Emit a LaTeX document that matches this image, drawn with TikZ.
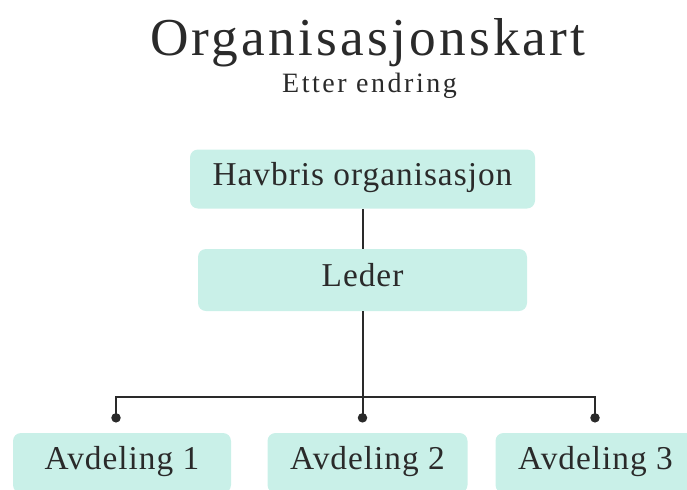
\documentclass[tikz,border=0pt]{standalone}
\usepackage{fontspec}
\setmainfont{Liberation Serif}[LetterSpace=3]
\newfontfamily\headfont{Liberation Serif}[LetterSpace=6]
\newfontfamily\subfont{Liberation Serif}[LetterSpace=9]
\usetikzlibrary{positioning, arrows.meta}
\definecolor{mint}{HTML}{C9F0E8}
\definecolor{ink}{HTML}{2A2A2A}
\tikzset{unit/.style={fill=mint, rounded corners=6pt, text=ink, inner sep=0pt,
                      font=\fontsize{25}{30}\selectfont, text height=17pt, text depth=7pt},
         link/.style={draw=ink, line width=1.5pt},
         joint/.style={link, -{Circle[length=7pt]}},
        }

\begin{document}
\begin{tikzpicture}[x=0.75pt, y=-0.75pt]
        \useasboundingbox (0,0) rectangle (687,490);
        \clip (0,0) rectangle (687,490);

        \node[text=ink, anchor=base, font=\headfont\fontsize{40}{46}\selectfont](title)at(368,55){Organisasjonskart};
        \node[text=ink, anchor=base, font=\subfont\fontsize{21}{25}\selectfont](sub)at(369.5,92){Etter endring};

        \node[unit, minimum width=258.75pt, minimum height=44.25pt](havbris)at(362.5,179){Havbris organisasjon};
        \node[unit, minimum width=246.75pt, minimum height=46.5pt](leder)at(362.5,280){Leder};
        \node[unit, minimum width=163.5pt, minimum height=45pt](avd1)at(122,463){Avdeling 1};
        \node[unit, minimum width=150pt, minimum height=45pt](avd2)at(367.5,463){Avdeling 2};
        \node[unit, minimum width=150pt, minimum height=45pt](avd3)at(595.5,463){Avdeling 3};

        \coordinate (j) at (362.5,397);
        \coordinate (d1) at (116,422.5);
        \coordinate (d2) at (362.5,422.5);
        \coordinate (d3) at (595,422.5);

        \draw[link](havbris)--(leder);
        \draw[joint](leder)--(d2);
        \draw[joint](j)-|(d1);
        \draw[joint](j)-|(d3);
    \end{tikzpicture}
\end{document}
